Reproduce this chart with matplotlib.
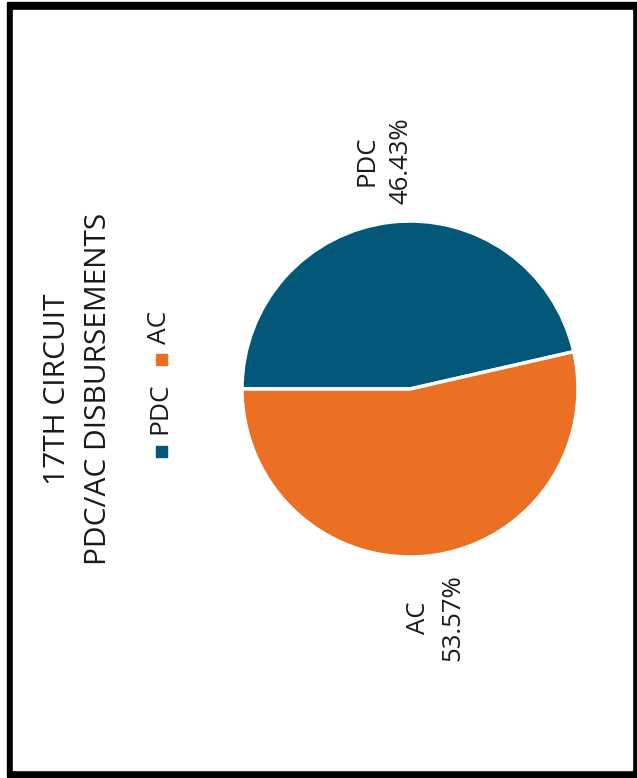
import matplotlib.pyplot as plt
from matplotlib.patches import Rectangle

# dados do grafico
categorias = ["PDC", "AC"]
percentagens = [46.43, 53.57]
cores = ["#03587A", "#EB7024"]
titulo = "17TH CIRCUIT\nPDC/AC DISBURSEMENTS"

plt.rcParams['font.family'] = ['Open Sans', 'DejaVu Sans']

W, H = 637, 778
fig = plt.figure(figsize=(W / 100, H / 100), dpi=100)

# camada de fundo em coordenadas de pixel (moldura, titulo, legenda)
fundo = fig.add_axes([0, 0, 1, 1])
fundo.set_xlim(0, W)
fundo.set_ylim(H, 0)
fundo.axis('off')
fundo.add_patch(Rectangle((7, 2), 630, 775, color='black'))
fundo.add_patch(Rectangle((13, 10), 619, 760, color='white'))

fundo.text(78, 389, titulo, rotation=90, ha='center', va='center',
           fontsize=21.5, color='#1a1a1a', linespacing=1.55)

# legenda desenhada a mao (texto rodado)
leg_y = [451, 359]
txt_y = [408, 327]
for nome, cor, ym, yt in zip(categorias, cores, leg_y, txt_y):
    fundo.add_patch(Rectangle((156, ym - 5.5), 11, 11, color=cor))
    fundo.text(160, yt, nome, rotation=90, ha='center', va='center',
               fontsize=19, color='#1a1a1a')

# tarte
cx, cy, r = 410, 389, 168
ax = fig.add_axes([(cx - r) / W, (H - cy - r) / H, 2 * r / W, 2 * r / H])
rotulos = [f"{n}\n{p:.2f}%" for n, p in zip(categorias, percentagens)]
fatias, textos = ax.pie(percentagens, colors=cores, labels=rotulos,
                        startangle=180, counterclock=False, labeldistance=1.37,
                        wedgeprops=dict(edgecolor='white', linewidth=2.5))
ax.set_xlim(-1, 1)
ax.set_ylim(-1, 1)
for t in textos:
    t.set(rotation=90, ha='center', va='center', fontsize=18.5,
          color='#1a1a1a', linespacing=1.5)

fig.savefig("out.png", dpi=100)
